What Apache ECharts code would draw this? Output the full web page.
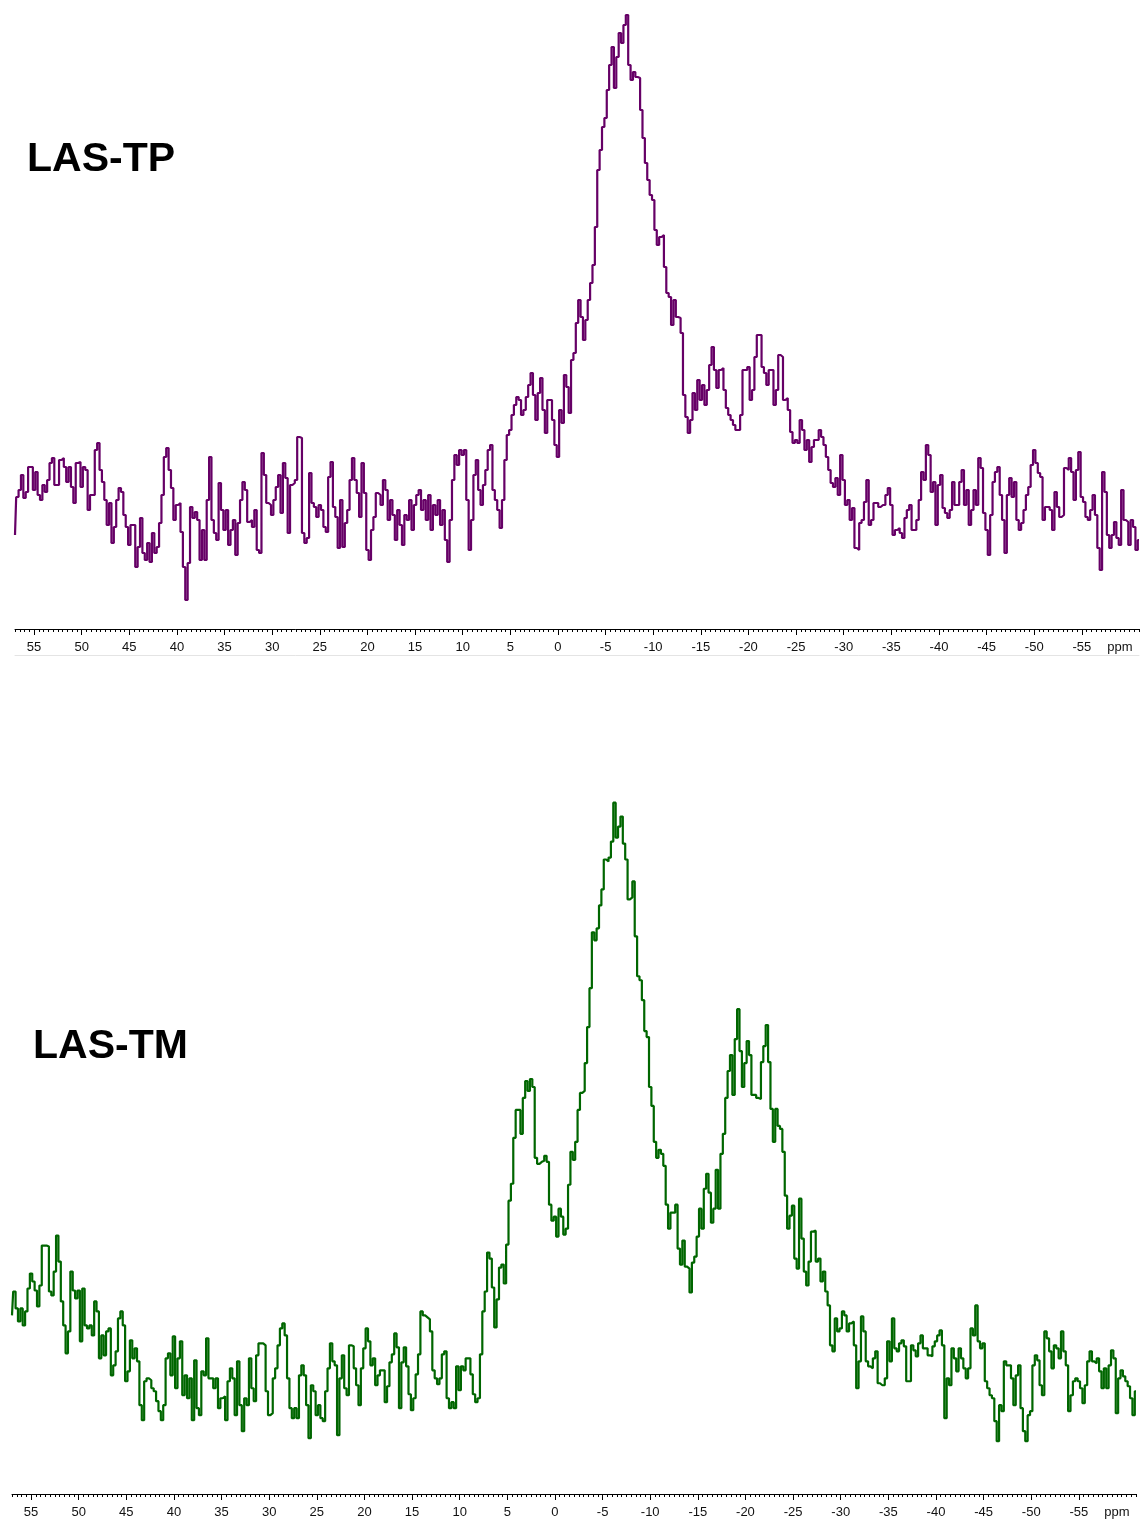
<!DOCTYPE html>
<html>
<head>
<meta charset="utf-8">
<script src="https://cdn.jsdelivr.net/npm/echarts@6/dist/echarts.min.js"></script>
<style>
  html, body { margin: 0; padding: 0; background: #fff; }
  #chart { width: 1140px; height: 1519px; }
</style>
</head>
<body>
<div id="chart"></div>
<script>
// Spectra are sampled on a regular chemical-shift grid (ppm, high to low)
const ppmStart = 57;
const ppmStep = 0.25;

// LAS-TP intensity (arbitrary units)
const lasTP = [
  94,132,139,154,131,137,162,162,139,157,
  134,129,144,137,149,166,171,144,144,169,
  171,162,147,162,142,126,166,167,142,162,
  159,119,134,134,179,186,159,147,129,104,
  126,86,102,129,141,137,114,102,84,104,
  104,62,82,111,76,69,86,67,96,76,
  82,106,134,172,181,159,141,109,124,126,
  97,62,29,66,122,111,117,109,69,99,
  69,129,172,109,96,89,146,119,99,119,
  84,99,109,74,106,129,147,139,107,109,
  102,119,79,76,176,154,126,124,114,129,
  142,154,116,166,151,96,144,146,149,192,
  191,96,86,91,156,126,122,112,124,119,
  102,97,152,167,122,112,81,129,82,106,
  119,149,171,149,136,112,166,136,79,69,
  99,112,136,
  134,124,149,139,109,129,114,89,119,104,
  84,114,109,129,99,124,134,139,119,129,
  109,134,99,124,114,129,104,119,89,67,
  109,149,174,164,179,174,179,129,79,109,
  154,169,139,124,144,159,179,184,139,129,
  119,101,129,169,194,
  199,214,224,232,229,214,219,232,244,256,
  234,209,236,251,219,196,229,229,209,184,
  172,219,206,254,242,216,269,276,306,329,
  312,289,309,329,346,364,402,459,479,502,
  511,539,564,582,541,572,596,586,604,614,
  564,549,557,552,551,519,491,466,449,434,
  429,399,384,392,394,362,336,332,304,329,
  312,311,296,234,212,196,209,236,219,249,
  229,244,224,239,264,282,259,241,259,261,
  239,221,214,209,204,199,199,214,259,259,
  262,229,239,272,294,294,
  262,256,244,259,259,224,239,274,272,229,
  231,219,197,186,189,186,209,199,179,189,
  167,182,189,189,199,192,184,172,159,146,
  142,151,134,174,149,124,129,109,121,81,
  79,106,109,127,149,104,109,126,126,122,
  124,124,134,141,124,94,99,101,96,91,
  111,119,124,99,99,109,129,157,149,184,
  174,137,147,104,144,154,121,116,111,119,
  147,124,124,147,159,124,139,104,119,139,
  124,171,161,116,99,74,114,147,157,162,
  134,109,76,134,151,132,147,109,99,106,
  119,134,142,164,179,166,156,152,109,122,
  122,119,99,137,122,112,114,161,159,171,
  157,129,159,177,132,127,112,109,119,134,
  114,81,59,157,137,94,81,94,107,91,
  84,139,109,107,84,109,102,79,89
];

// LAS-TM intensity (arbitrary units)
const lasTM = [
  179,203,186,173,186,169,183,206,221,213,
  204,188,209,249,249,248,203,199,223,259,
  233,193,169,141,163,223,204,196,204,153,
  206,169,166,169,159,193,183,136,159,139,
  163,166,119,129,143,176,183,169,113,123,
  154,136,146,133,89,74,113,116,114,106,
  103,93,83,74,89,136,141,119,158,106,
  136,153,99,119,96,116,74,134,86,79,
  123,119,156,116,116,106,116,86,96,98,
  74,113,126,116,79,133,89,63,96,89,
  136,106,93,139,151,151,149,103,79,81,
  116,126,149,166,171,159,116,86,76,86,
  76,119,129,119,89,56,109,103,79,89,
  76,73,103,126,151,133,129,59,116,139,
  106,99,149,148,126,109,89,126,146,166,
  153,129,136,109,119,
  124,124,92,108,132,140,161,147,86,132,
  147,128,100,84,96,120,140,183,179,177,
  175,163,124,116,110,116,140,143,96,86,
  92,86,128,104,128,124,136,136,120,100,
  92,96,140,183,203,242,236,207,167,195,
  227,230,211,250,294,311,357,385,385,361,
  397,414,404,416,408,337,331,333,334,339,
  333,290,274,278,258,286,278,260,266,310,
  343,335,353,385,402,404,432,468,507,563,
  555,567,590,606,636,634,638,654,693,658,
  669,679,652,636,596,598,614,559,519,515,
  495,464,458,408,389,353,337,345,341,329,
  290,266,282,282,290,246,230,254,228,226,
  202,232,238,258,286,266,306,321,302,272,
  286,325,286,341,361,397,424,440,400,456,
  486,444,408,432,454,440,400,400,397,
  396,433,449,470,433,386,353,386,369,366,
  343,299,266,279,289,236,226,296,256,223,
  209,233,263,264,233,236,213,223,203,189,
  149,143,176,163,166,183,179,163,171,173,
  149,106,133,178,163,133,128,126,136,143,
  111,109,109,116,153,133,176,146,143,151,
  154,148,113,113,149,144,138,151,159,146,
  146,139,138,148,153,159,164,149,76,116,
  109,146,136,123,146,136,126,116,126,166,
  159,189,153,146,151,113,106,99,96,73,
  53,89,83,133,129,129,116,89,119,129,
  86,63,53,79,83,129,139,134,109,99,
  163,156,143,126,149,146,136,163,143,129,
  83,99,113,116,113,106,91,109,133,143,
  133,131,136,123,106,126,106,129,144,136,
  81,116,124,118,113,108,96,79,103
];

// Labelled shift-axis ticks and the unit label position
const majorTicks = [55,50,45,40,35,30,25,20,15,10,5,0,-5,-10,-15,-20,-25,-30,-35,-40,-45,-50,-55];
const unitLabelAt = -59;
const unitLabel = 'ppm';

const axisMin = -61, axisMax = 57;
const minorStep = 0.5;

const minorTicks = [];
for (let v = axisMax; v >= axisMin - 1e-9; v -= minorStep) minorTicks.push(+v.toFixed(2));

const toPairs = arr => arr.map((v, i) => [ppmStart - i * ppmStep, v]);

const labelFont = { fontFamily: 'Liberation Sans, Arial, sans-serif', fontSize: 13, color: '#111' };

function shiftAxes(gridIndex, withRule) {
  const base = {
    type: 'value', gridIndex, min: axisMin, max: axisMax, inverse: true,
    position: 'bottom', splitLine: { show: false }
  };
  const list = [
    Object.assign({}, base, {
      offset: 0,
      axisLine: { show: true, onZero: false, lineStyle: { color: '#000', width: 1 } },
      axisTick: { show: true, customValues: majorTicks, length: 6, lineStyle: { color: '#000', width: 1 } },
      axisLabel: Object.assign({
        show: true,
        margin: 12,
        customValues: majorTicks.concat([unitLabelAt]),
        formatter: v => Math.abs(v - unitLabelAt) < 1e-6 ? unitLabel : String(v)
      }, labelFont)
    }),
    Object.assign({}, base, {
      offset: 0,
      axisLine: { show: false, onZero: false },
      axisTick: { show: true, customValues: minorTicks, length: 3, lineStyle: { color: '#000', width: 1 } },
      axisLabel: { show: false }
    })
  ];
  if (withRule) {
    list.push(Object.assign({}, base, {
      offset: 26,
      axisLine: { show: true, onZero: false, lineStyle: { color: '#e4e4e4', width: 1 } },
      axisTick: { show: false },
      axisLabel: { show: false }
    }));
  }
  return list;
}

const topAxes = shiftAxes(0, true);
const bottomAxes = shiftAxes(1, false);

const chart = echarts.init(document.getElementById('chart'), null, { renderer: 'canvas' });

const titleStyle = { fontFamily: 'Liberation Sans, Arial, sans-serif', fontWeight: 'bold', fontSize: 41, color: '#000' };

chart.setOption({
  animation: false,
  backgroundColor: '#fff',
  title: [
    { text: 'LAS-TP', left: 27, top: 139, padding: 0, textStyle: titleStyle },
    { text: 'LAS-TM', left: 33, top: 1026, padding: 0, textStyle: titleStyle }
  ],
  grid: [
    { left: 15, width: 1124, top: 0, height: 629 },
    { left: 12, width: 1124, top: 660, height: 836 }
  ],
  xAxis: topAxes.concat(bottomAxes),
  yAxis: [
    { type: 'value', gridIndex: 0, min: 0, max: 629, show: false, splitLine: { show: false } },
    { type: 'value', gridIndex: 1, min: 0, max: 836, show: false, splitLine: { show: false } }
  ],
  series: [
    {
      name: 'LAS-TP', type: 'line', xAxisIndex: 0, yAxisIndex: 0,
      data: toPairs(lasTP), step: 'middle', showSymbol: false, clip: false,
      lineStyle: { color: '#660066', width: 2.2 }
    },
    {
      name: 'LAS-TM', type: 'line', xAxisIndex: topAxes.length, yAxisIndex: 1,
      data: toPairs(lasTM), step: 'middle', showSymbol: false, clip: false,
      lineStyle: { color: '#006600', width: 2.2 }
    }
  ]
});
</script>
</body>
</html>
